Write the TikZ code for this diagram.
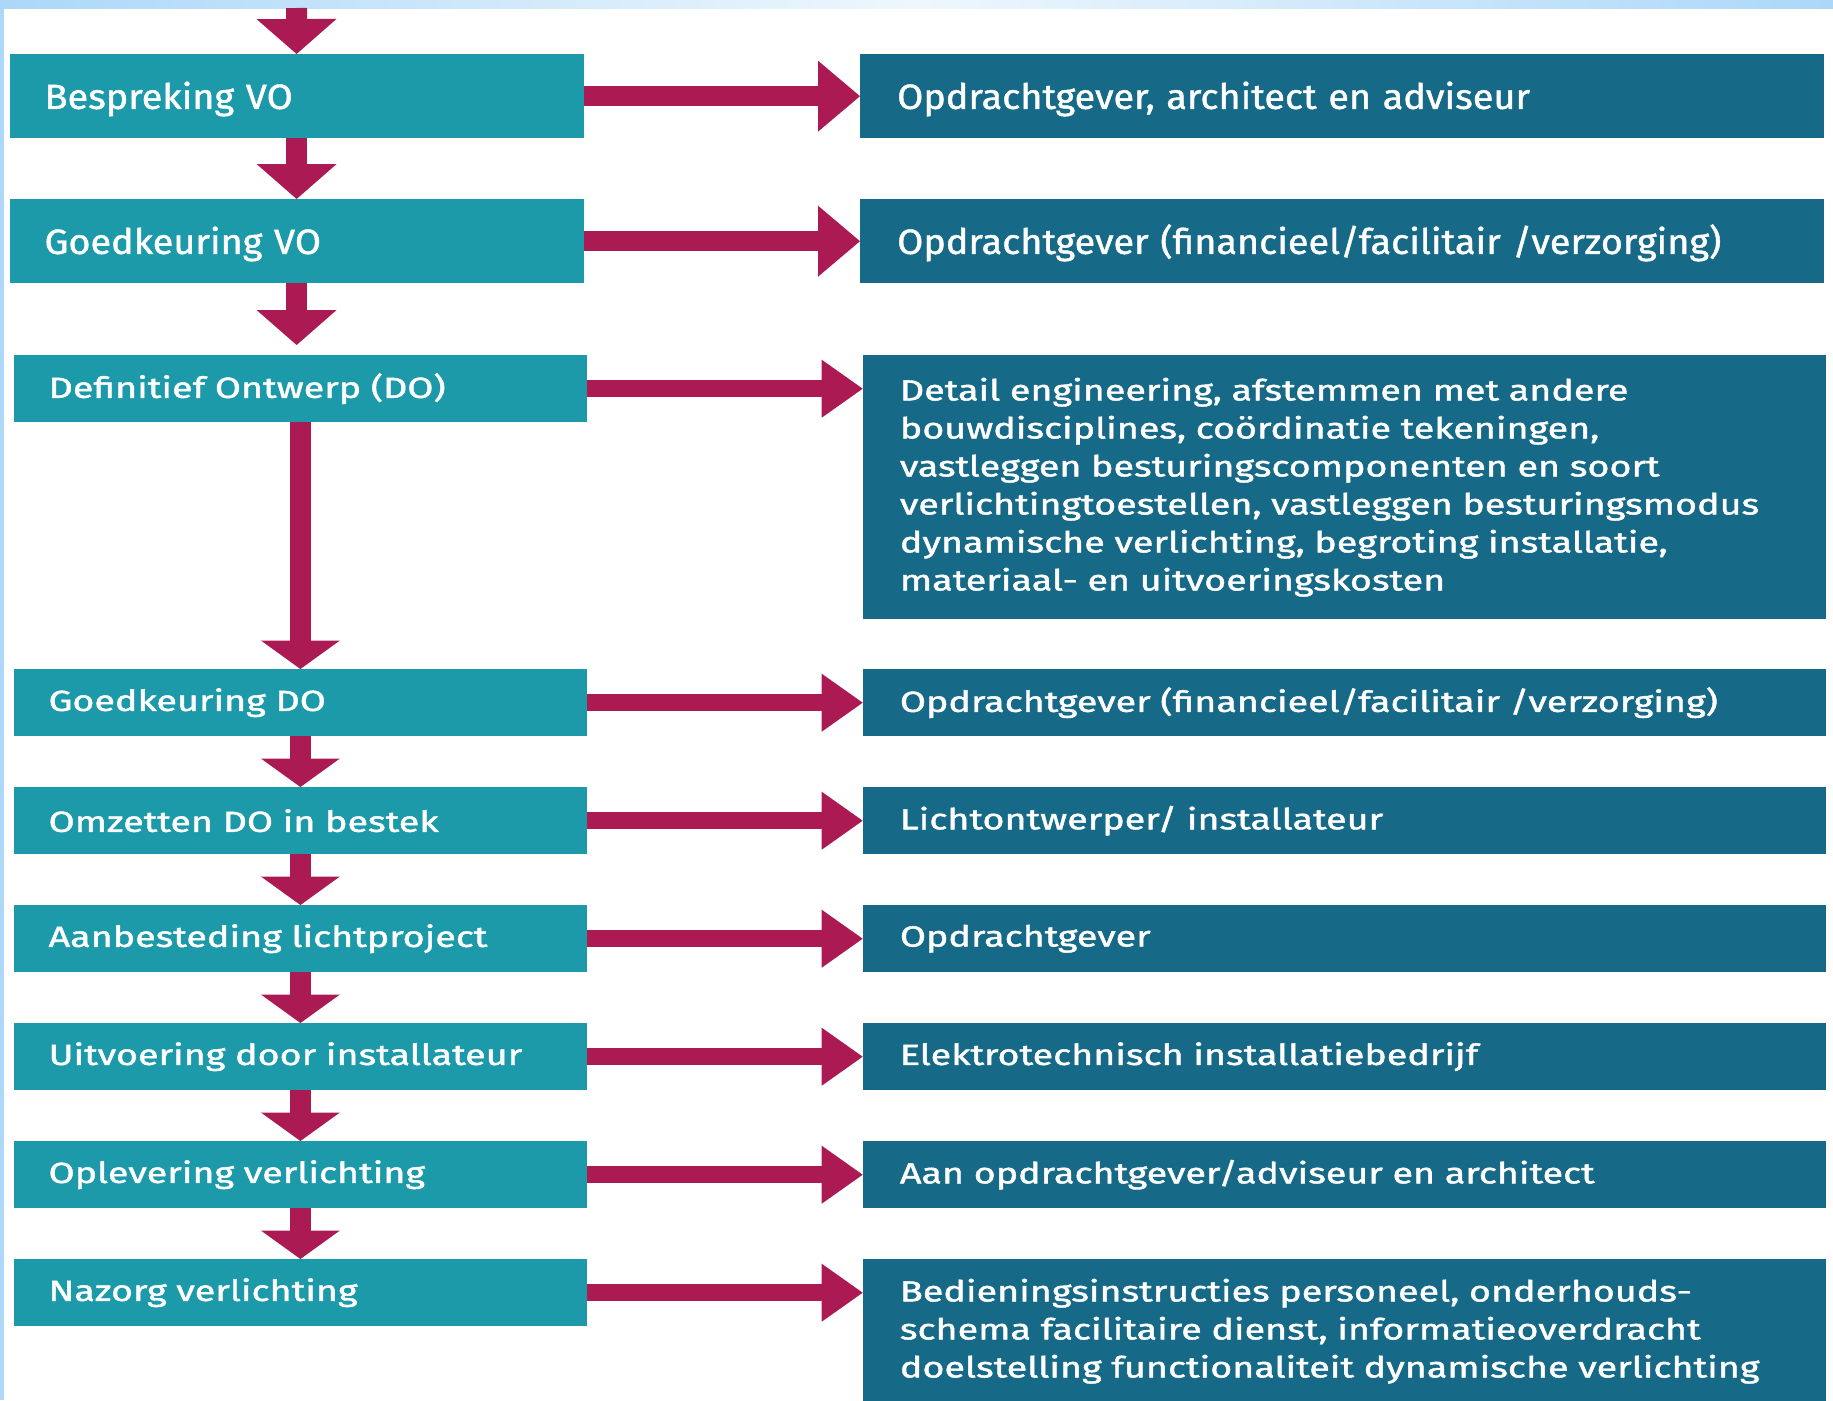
\documentclass[tikz,border=0pt]{standalone}
\usepackage{fontspec}
\setmainfont{Fira Sans}
\newfontfamily\upfont[FakeStretch=1.08,FakeBold=1.2]{Fira Sans}
\newfontfamily\lowfont[FakeStretch=1.30,FakeBold=1.5]{Fira Sans}
\usetikzlibrary{arrows.meta,calc}
\definecolor{boxteal}{RGB}{28,154,169}
\definecolor{boxdark}{RGB}{23,106,135}
\definecolor{arrowmag}{RGB}{171,26,83}
\definecolor{frameblue}{RGB}{172,215,249}
\definecolor{framelight}{RGB}{238,247,253}
\begin{document}
\begin{tikzpicture}[x=1pt,y=-1pt,
  boxbase/.style={anchor=north west, inner ysep=0pt, text=white, align=left},
  upleft/.style={boxbase, fill=boxteal, minimum width=574pt, minimum height=84pt,
    inner xsep=35pt, text width=504pt, text height=26pt, text depth=0.6pt,
    font={\upfont\fontsize{35}{42}\selectfont}},
  upright/.style={boxbase, fill=boxdark, minimum width=963.5pt, minimum height=84pt,
    inner xsep=37pt, text width=889.5pt, text height=26pt, text depth=0.6pt,
    font={\upfont\fontsize{35}{42}\selectfont}},
  lowleft/.style={boxbase, fill=boxteal, minimum width=573.6pt, minimum height=67pt,
    inner xsep=35pt, text width=503.6pt, font={\lowfont\fontsize{29}{38}\selectfont}},
  lowright/.style={boxbase, fill=boxdark, minimum width=963.3pt, minimum height=67pt,
    inner xsep=37pt, text width=889.3pt, font={\lowfont\fontsize{29}{38}\selectfont}},
  uparrowv/.style={draw=arrowmag, line width=21pt, line cap=butt,
    -{Triangle[length=35pt,width=80pt,line width=0pt]}},
  uparrowh/.style={draw=arrowmag, line width=20pt, line cap=butt,
    -{Triangle[length=42pt,width=71pt,line width=0pt]}},
  lowarrowv/.style={draw=arrowmag, line width=21pt, line cap=butt,
    -{Triangle[length=28.5pt,width=79pt,line width=0pt]}},
  lowarrowh/.style={draw=arrowmag, line width=17pt, line cap=butt,
    -{Triangle[length=41pt,width=58pt,line width=0pt]}}
]
\useasboundingbox (0,0) rectangle (1833,1400);
\fill[white] (0,0) rectangle (1833,1400);
% frame strips
\shade[left color=frameblue, right color=frameblue, middle color=framelight] (0,0) rectangle (1833,8);
\fill[frameblue] (0,0) rectangle (3.5,1400);

% upper boxes
\node[upleft] (l1) at (9.4,54) {Bespreking VO};
\node[upleft] (l2) at (9.4,199) {Goedkeuring VO};
\node[upright] (r1) at (860,54) {Opdrachtgever, architect en adviseur};
\node[upright] (r2) at (860,199) {Opdrachtgever (financieel/facilitair /verzorging)};

% lower boxes
\node[lowleft] (l3) at (13.4,355) {Definitief Ontwerp (DO)};
\node[lowleft] (l4) at (13.4,669) {Goedkeuring DO};
\node[lowleft] (l5) at (13.4,787) {Omzetten DO in bestek};
\node[lowleft] (l6) at (13.4,905) {Aanbesteding lichtproject};
\node[lowleft] (l7) at (13.4,1023) {Uitvoering door installateur};
\node[lowleft] (l8) at (13.4,1141) {Oplevering verlichting};
\node[lowleft] (l9) at (13.4,1259) {Nazorg verlichting};

\node[lowright, minimum height=264pt] (r3) at (862.7,355) {Detail engineering, afstemmen met andere\\
bouwdisciplines, coördinatie tekeningen,\\
vastleggen besturingscomponenten en soort\\
verlichtingtoestellen, vastleggen besturingsmodus\\
dynamische verlichting, begroting installatie,\\
materiaal- en uitvoeringskosten};
\node[lowright] (r4) at (862.7,669) {Opdrachtgever (financieel/facilitair /verzorging)};
\node[lowright] (r5) at (862.7,787) {Lichtontwerper/ installateur};
\node[lowright] (r6) at (862.7,905) {Opdrachtgever};
\node[lowright] (r7) at (862.7,1023) {Elektrotechnisch installatiebedrijf};
\node[lowright] (r8) at (862.7,1141) {Aan opdrachtgever/adviseur en architect};
\node[lowright, minimum height=144pt] (r9) at (862.7,1259) {Bedieningsinstructies personeel, onderhouds-\\
schema facilitaire dienst, informatieoverdracht\\
doelstelling functionaliteit dynamische verlichting};

% vertical arrows
\coordinate (start) at (296.5,8);
\draw[uparrowv] (start) -- (l1.north);
\draw[uparrowv] (l1.south) -- (l2.north);
\draw[uparrowv] (l2.south) -- ($(l2.south |- l3.north)+(0,-10)$);
\draw[lowarrowv] (l3.south) -- (l4.north);
\draw[lowarrowv] (l4.south) -- (l5.north);
\draw[lowarrowv] (l5.south) -- (l6.north);
\draw[lowarrowv] (l6.south) -- (l7.north);
\draw[lowarrowv] (l7.south) -- (l8.north);
\draw[lowarrowv] (l8.south) -- (l9.north);

% horizontal arrows
\draw[uparrowh] (l1.east) -- (r1.west);
\draw[uparrowh] (l2.east) -- (r2.west);
\draw[lowarrowh] (l3.east) -- (l3.east -| r3.west);
\draw[lowarrowh] (l4.east) -- (r4.west);
\draw[lowarrowh] (l5.east) -- (r5.west);
\draw[lowarrowh] (l6.east) -- (r6.west);
\draw[lowarrowh] (l7.east) -- (r7.west);
\draw[lowarrowh] (l8.east) -- (r8.west);
\draw[lowarrowh] (l9.east) -- (l9.east -| r9.west);
\end{tikzpicture}
\end{document}
